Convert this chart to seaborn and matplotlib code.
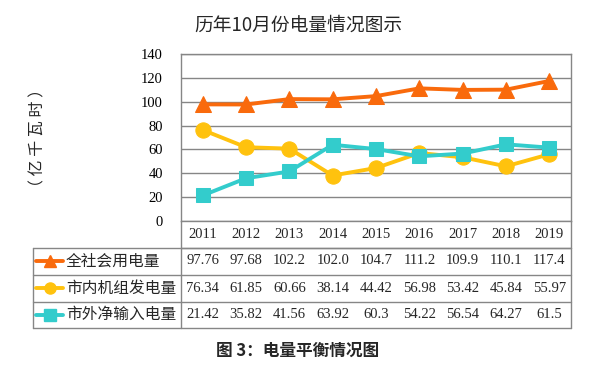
import numpy as np
import pandas as pd
import matplotlib
matplotlib.use("Agg")
import matplotlib.pyplot as plt
import seaborn as sns

# ==================== data ====================
years = ["2011", "2012", "2013", "2014", "2015", "2016", "2017", "2018", "2019"]
series_names = ["全社会用电量", "市内机组发电量", "市外净输入电量"]
total_use = [97.76, 97.68, 102.2, 102.0, 104.7, 111.2, 109.9, 110.1, 117.4]
local_gen = [76.34, 61.85, 60.66, 38.14, 44.42, 56.98, 53.42, 45.84, 55.97]
net_import = [21.42, 35.82, 41.56, 63.92, 60.3, 54.22, 56.54, 64.27, 61.5]
# labels as printed in the table
total_lbl = ["97.76", "97.68", "102.2", "102.0", "104.7", "111.2", "109.9", "110.1", "117.4"]
local_lbl = ["76.34", "61.85", "60.66", "38.14", "44.42", "56.98", "53.42", "45.84", "55.97"]
import_lbl = ["21.42", "35.82", "41.56", "63.92", "60.3", "54.22", "56.54", "64.27", "61.5"]

colors = ["#F96A0C", "#FFC20E", "#33CCCC"]
markers = ["^", "o", "s"]
msizes = [11, 11, 10]

sns.set_style("white")
plt.rcParams["font.family"] = ["Liberation Serif", "Noto Sans CJK SC", "DejaVu Sans"]
cjk = ["Noto Sans CJK SC", "DejaVu Sans"]
grey = "#868686"

W, H = 593, 367
fig = plt.figure(figsize=(W / 100, H / 100), dpi=100)

L, R, T, B = 181, 571, 54, 221
ax = fig.add_axes([L / W, 1 - B / H, (R - L) / W, (B - T) / H])

x = np.arange(len(years))
for name, vals, c, m, ms in zip(series_names, [total_use, local_gen, net_import], colors, markers, msizes):
    df = pd.DataFrame({"x": x, "y": vals})
    sns.lineplot(data=df, x="x", y="y", ax=ax, color=c, lw=2.8, marker=m,
                 markersize=ms, markeredgecolor=c, zorder=3)

ax.set_xlim(-0.5, len(years) - 0.5)
ax.set_ylim(0, 140)
ax.set_yticks(range(0, 141, 20))
ax.set_xticks([])
ax.set_xlabel("")
ax.set_ylabel("")
ax.grid(axis="y", color=grey, lw=1)
for s in ax.spines.values():
    s.set_color(grey)
    s.set_linewidth(1)
ax.tick_params(axis="y", length=0, labelsize=10.5, pad=13, colors="black")

# ==================== table below the plot ====================
tab = fig.add_axes([0, 0, 1, 1], facecolor="none")
tab.set_xlim(0, W)
tab.set_ylim(H, 0)
tab.axis("off")

rows_y = [221, 247.5, 274.5, 301.5, 328]
left_col = 33
tab.plot([L, R], [rows_y[1], rows_y[1]], color=grey, lw=1)
for yy in rows_y[1:]:
    tab.plot([left_col, R], [yy, yy], color=grey, lw=1)
tab.plot([L, L], [B, rows_y[-1]], color=grey, lw=1)
tab.plot([R, R], [B, rows_y[-1]], color=grey, lw=1)
tab.plot([left_col, left_col], [rows_y[1], rows_y[-1]], color=grey, lw=1)

colw = (R - L) / len(years)
centers = [L + (i + 0.5) * colw for i in range(len(years))]
for cx, yr in zip(centers, years):
    tab.text(cx, (rows_y[0] + rows_y[1]) / 2, yr, ha="center", va="center", fontsize=10.5)

for r, (name, lbls, c, m) in enumerate(zip(series_names, [total_lbl, local_lbl, import_lbl], colors, markers)):
    cy = (rows_y[r + 1] + rows_y[r + 2]) / 2
    tab.plot([36, 63], [cy, cy], color=c, lw=2.8)
    tab.plot([49.5], [cy], marker=m, color=c, markersize=8, markeredgecolor=c)
    tab.text(66, cy, name, ha="left", va="center", fontsize=11.3, family=cjk)
    for cx, lb in zip(centers, lbls):
        tab.text(cx, cy, lb, ha="center", va="center", fontsize=10.5)

# titles
fig.text(298 / W, 1 - 25 / H, "历年10月份电量情况图示", ha="center", va="center", fontsize=13.5, family=cjk)
fig.text(38 / W, 1 - 138 / H, "（ 亿 千 瓦 时 ）", ha="center", va="center", rotation=90, fontsize=11.5, family=cjk)
fig.text(298 / W, 1 - 351 / H, "图 3：电量平衡情况图", ha="center", va="center", fontsize=12,
         fontweight="bold", family=cjk)

fig.savefig("out.png", dpi=100)
